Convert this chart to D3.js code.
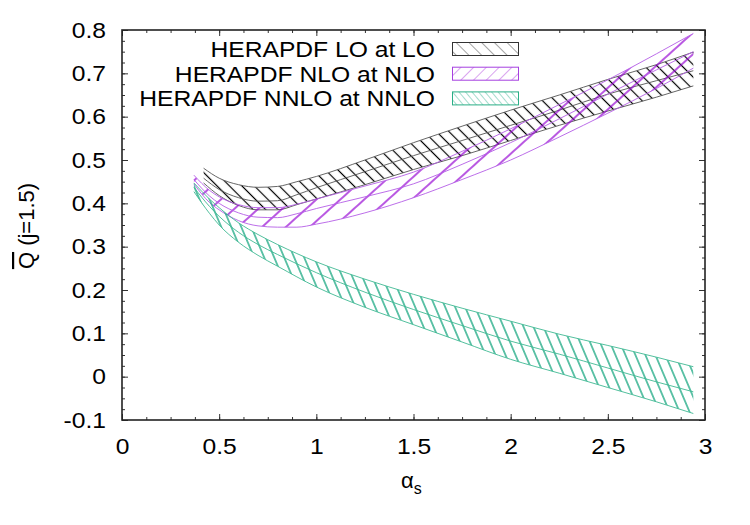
<!DOCTYPE html>
<html>
<head>
<meta charset="utf-8">
<script src="https://cdn.jsdelivr.net/npm/d3@7"></script>
<style>
  body { margin: 0; background: #fff; }
  text { font-family: "Liberation Sans", Arial, Helvetica, sans-serif; }
</style>
</head>
<body>
<svg id="chart" width="750" height="525"></svg>
<script>
// values
const seriesNames = ["HERAPDF LO at LO", "HERAPDF NLO at NLO", "HERAPDF NNLO at NNLO"];

const aLO   = [0.42, 0.5, 0.6, 0.7, 0.8, 0.9, 1.0, 1.25, 1.5, 1.75, 2.0, 2.25, 2.5, 2.75, 2.94];
const loUp  = [0.481, 0.458, 0.443, 0.437, 0.439, 0.450, 0.462, 0.500, 0.540, 0.578, 0.615, 0.650, 0.686, 0.720, 0.749];
const loMid = [0.458, 0.432, 0.413, 0.405, 0.406, 0.420, 0.436, 0.473, 0.510, 0.545, 0.580, 0.615, 0.652, 0.683, 0.706];
const loLow = [0.447, 0.418, 0.395, 0.385, 0.385, 0.397, 0.410, 0.443, 0.478, 0.510, 0.545, 0.580, 0.613, 0.645, 0.671];

const aNLO   = [0.37, 0.45, 0.5, 0.6, 0.7, 0.8, 0.9, 1.0, 1.25, 1.5, 1.75, 2.0, 2.25, 2.5, 2.75, 2.94];
const nloUp  = [0.465, 0.430, 0.415, 0.397, 0.390, 0.390, 0.398, 0.410, 0.440, 0.472, 0.520, 0.572, 0.628, 0.685, 0.745, 0.792];
const nloMid = [0.455, 0.417, 0.400, 0.378, 0.368, 0.367, 0.376, 0.388, 0.415, 0.445, 0.490, 0.540, 0.595, 0.652, 0.708, 0.750];
const nloLow = [0.445, 0.402, 0.385, 0.360, 0.348, 0.345, 0.345, 0.352, 0.378, 0.413, 0.455, 0.500, 0.553, 0.608, 0.665, 0.712];

const aNNLO   = [0.37, 0.45, 0.5, 0.6, 0.7, 0.8, 1.0, 1.25, 1.5, 1.75, 2.0, 2.25, 2.5, 2.75, 2.94];
const nnloUp  = [0.447, 0.410, 0.390, 0.355, 0.328, 0.305, 0.265, 0.225, 0.190, 0.158, 0.128, 0.098, 0.072, 0.045, 0.023];
const nnloMid = [0.437, 0.393, 0.370, 0.333, 0.305, 0.282, 0.240, 0.195, 0.155, 0.118, 0.082, 0.052, 0.020, -0.012, -0.035];
const nnloLow = [0.427, 0.377, 0.350, 0.310, 0.280, 0.255, 0.207, 0.160, 0.120, 0.080, 0.040, 0.008, -0.025, -0.058, -0.085];

const xTicks = [0, 0.5, 1, 1.5, 2, 2.5, 3];
const xTickLabels = ["0", "0.5", "1", "1.5", "2", "2.5", "3"];
const yTicks = [-0.1, 0, 0.1, 0.2, 0.3, 0.4, 0.5, 0.6, 0.7, 0.8];
const yTickLabels = ["-0.1", "0", "0.1", "0.2", "0.3", "0.4", "0.5", "0.6", "0.7", "0.8"];

const FONT = 22;
const STRETCH = 1.12;

const svg = d3.select("#chart");
const mLeft = 122, mRight = 705, mTop = 30, mBottom = 420;

const x = d3.scaleLinear().domain([0, 3]).range([mLeft, mRight]);
const y = d3.scaleLinear().domain([-0.1, 0.8]).range([mBottom, mTop]);

// hatch patterns
const defs = svg.append("defs");
function hatch(id, spacing, rot, color, width, opacity) {
    const p = defs.append("pattern")
        .attr("id", id)
        .attr("patternUnits", "userSpaceOnUse")
        .attr("width", spacing)
        .attr("height", 20)
        .attr("patternTransform", `rotate(${rot})`);
    p.append("line")
        .attr("x1", spacing / 2).attr("y1", 0)
        .attr("x2", spacing / 2).attr("y2", 20)
        .attr("stroke", color)
        .attr("stroke-width", width)
        .attr("stroke-opacity", opacity);
}
hatch("h-lo", 8.8, -45, "#000", 1.2, 1);
hatch("h-nlo", 16, 48, "#9400d3", 1.3, 1);
hatch("h-nnlo", 9.2, -23, "#009e73", 1.2, 1);
hatch("k-lo", 9, -45, "#000", 0.8, 0.45);
hatch("k-nlo", 9, 45, "#9400d3", 0.8, 0.45);
hatch("k-nnlo", 5, -40, "#009e73", 0.8, 0.45);

const bands = [
    { a: aLO, up: loUp, mid: loMid, low: loLow, fill: "url(#h-lo)", key: "url(#k-lo)", edge: "#555", border: "#333" },
    { a: aNLO, up: nloUp, mid: nloMid, low: nloLow, fill: "url(#h-nlo)", key: "url(#k-nlo)", edge: "#b45ee6", border: "#a640e0" },
    { a: aNNLO, up: nnloUp, mid: nnloMid, low: nnloLow, fill: "url(#h-nnlo)", key: "url(#k-nnlo)", edge: "#3fb993", border: "#2aae86" }
];

const plot = svg.append("g");

bands.forEach(b => {
    const pts = b.a.map((a, i) => ({ a, up: b.up[i], mid: b.mid[i], low: b.low[i] }));
    const area = d3.area()
        .x(d => x(d.a))
        .y0(d => y(d.low))
        .y1(d => y(d.up))
        .curve(d3.curveMonotoneX);
    plot.append("path")
        .datum(pts)
        .attr("d", area)
        .attr("fill", b.fill);
    ["up", "mid", "low"].forEach(k => {
        plot.append("path")
            .datum(pts)
            .attr("d", d3.line().x(d => x(d.a)).y(d => y(d[k])).curve(d3.curveMonotoneX))
            .attr("fill", "none")
            .attr("stroke", b.edge)
            .attr("stroke-width", 0.9);
    });
});

// axes, ticks pointing inward on all four sides
const xMinor = d3.range(0, 3.001, 0.125);
const yMinor = d3.range(-0.1, 0.801, 0.025);

function styleAxis(g) {
    g.select(".domain").remove();
    g.selectAll("line").attr("stroke", "#333").attr("stroke-width", 1);
    g.selectAll("text").attr("font-size", FONT).attr("fill", "#000")
        .attr("font-family", "\"Liberation Sans\", Arial, sans-serif");
}

svg.append("g").attr("transform", `translate(0,${mBottom})`)
    .call(d3.axisBottom(x).tickValues(xMinor).tickSize(-3).tickFormat("")).call(styleAxis);
svg.append("g").attr("transform", `translate(0,${mTop})`)
    .call(d3.axisTop(x).tickValues(xMinor).tickSize(-3).tickFormat("")).call(styleAxis);
svg.append("g").attr("transform", `translate(${mLeft},0)`)
    .call(d3.axisLeft(y).tickValues(yMinor).tickSize(-3).tickFormat("")).call(styleAxis);
svg.append("g").attr("transform", `translate(${mRight},0)`)
    .call(d3.axisRight(y).tickValues(yMinor).tickSize(-3).tickFormat("")).call(styleAxis);

svg.append("g").attr("transform", `translate(0,${mBottom})`)
    .call(d3.axisBottom(x).tickValues(xTicks).tickSize(-6).tickPadding(18)
        .tickFormat((d, i) => xTickLabels[i])).call(styleAxis);
svg.append("g").attr("transform", `translate(0,${mTop})`)
    .call(d3.axisTop(x).tickValues(xTicks).tickSize(-6).tickFormat("")).call(styleAxis);
svg.append("g").attr("transform", `translate(${mLeft},0)`)
    .call(d3.axisLeft(y).tickValues(yTicks).tickSize(-6).tickPadding(16)
        .tickFormat((d, i) => yTickLabels[i])).call(styleAxis);
svg.append("g").attr("transform", `translate(${mRight},0)`)
    .call(d3.axisRight(y).tickValues(yTicks).tickSize(-6).tickFormat("")).call(styleAxis);

svg.append("rect")
    .attr("x", mLeft).attr("y", mTop)
    .attr("width", mRight - mLeft).attr("height", mBottom - mTop)
    .attr("fill", "none")
    .attr("stroke", "#222")
    .attr("stroke-width", 1.6);

// legend
const legend = svg.append("g");
bands.forEach((b, i) => {
    const cy = 49 + i * 24.7;
    legend.append("text")
        .attr("class", "stretch")
        .attr("x", 435).attr("y", cy + 7.8)
        .attr("text-anchor", "end")
        .attr("font-size", FONT)
        .text(seriesNames[i]);
    legend.append("rect")
        .attr("x", 452.5).attr("y", cy - 6.5)
        .attr("width", 66).attr("height", 13)
        .attr("fill", b.key)
        .attr("stroke", b.border)
        .attr("stroke-width", 1);
});

// axis titles
const yTitle = svg.append("text")
    .attr("transform", "translate(34,226) rotate(-90)")
    .attr("text-anchor", "middle")
    .attr("font-size", FONT);
yTitle.append("tspan").style("text-decoration", "overline").text("Q");
yTitle.append("tspan").text(" (j=1.5)");

const xTitle = svg.append("text")
    .attr("x", 401).attr("y", 488)
    .attr("font-size", FONT);
xTitle.append("tspan").text("α");
xTitle.append("tspan").attr("font-size", 16).attr("dy", 6).text("s");

// widen the simple labels a little, like the reference font
svg.selectAll(".tick text, text.stretch").each(function() {
    const len = this.getComputedTextLength();
    if (len > 0) {
        d3.select(this).attr("textLength", len * STRETCH).attr("lengthAdjust", "spacingAndGlyphs");
    }
});
</script>
</body>
</html>
